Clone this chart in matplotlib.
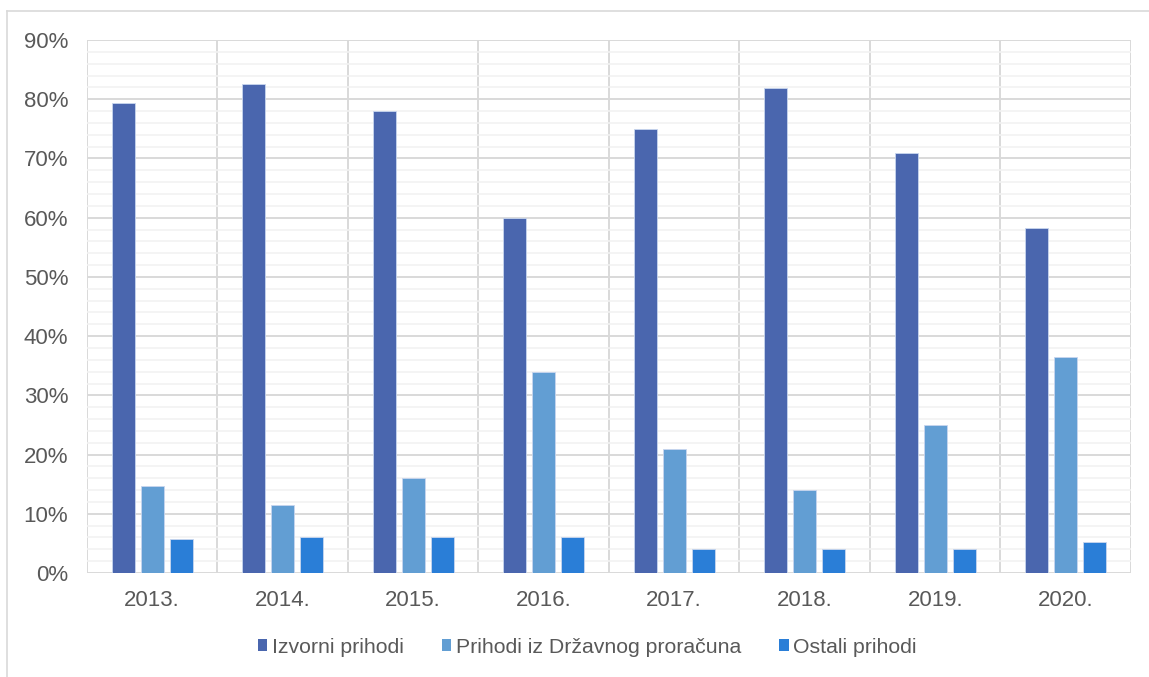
import matplotlib.pyplot as plt
import numpy as np
from matplotlib.lines import Line2D
from matplotlib.patches import Patch

plt.rcParams['font.family'] = ['Liberation Sans', 'DejaVu Sans']

# data
years = ['2013.', '2014.', '2015.', '2016.', '2017.', '2018.', '2019.', '2020.']
izvorni = [79.4, 82.6, 78.0, 60.0, 75.0, 81.9, 71.0, 58.3]
drzavni = [14.7, 11.4, 16.0, 34.0, 21.0, 14.0, 25.0, 36.5]
ostali = [5.8, 6.0, 6.0, 6.0, 4.0, 4.0, 4.0, 5.2]
series_names = ['Izvorni prihodi', 'Prihodi iz Državnog proračuna', 'Ostali prihodi']
colors = ['#4A66AE', '#629ED3', '#2A7ED7']

fig = plt.figure(figsize=(11.49, 6.77), dpi=100)
ax = fig.add_axes([0.0757, 0.1536, 0.9086, 0.7873])

x = np.arange(len(years))
w = 0.176
step = 0.222
for i, vals in enumerate([izvorni, drzavni, ostali]):
    ax.bar(x + (i - 1) * step, vals, width=w, color=colors[i],
           edgecolor='#C9D6EE', linewidth=0.6, zorder=3)

ax.set_xlim(-0.5, len(years) - 0.5)
ax.set_ylim(0, 90)

# gridlines: major every 10%, minor every 2%
ax.set_yticks(np.arange(0, 91, 10))
ax.set_yticks(np.arange(0, 91, 2), minor=True)
ax.set_yticklabels([f'{v}%' for v in range(0, 91, 10)])
ax.grid(axis='y', which='minor', color='#F2F2F2', linewidth=1.2, zorder=0)
ax.grid(axis='y', which='major', color='#D9D9D9', linewidth=1.4, zorder=1)
for b in np.arange(-0.5, len(years), 1.0):
    ax.axvline(b, color='#D9D9D9', linewidth=1.4, zorder=1)

ax.set_xticks(x)
ax.set_xticklabels(years)
ax.tick_params(axis='both', which='both', length=0, labelsize=16, colors='#595959')
ax.tick_params(axis='x', pad=12)
ax.tick_params(axis='y', pad=13.5)
for s in ax.spines.values():
    s.set_visible(False)

handles = [Patch(facecolor=c, edgecolor='none') for c in colors]
fig.legend(handles, series_names, loc='center', bbox_to_anchor=(0.511, 0.0443),
           ncol=3, frameon=False, fontsize=15.3, handlelength=0.44, handleheight=0.44,
           handletextpad=0.22, columnspacing=1.8, labelcolor='#595959')

# outer chart border (left and top visible)
fig.add_artist(Line2D([0.0061, 0.0061], [0, 1 - 11 / 677], color='#D9D9D9', linewidth=1.2))
fig.add_artist(Line2D([0.0061, 1], [1 - 11 / 677, 1 - 11 / 677], color='#D9D9D9', linewidth=1.2))

fig.savefig('out.png', dpi=100, facecolor='white')
